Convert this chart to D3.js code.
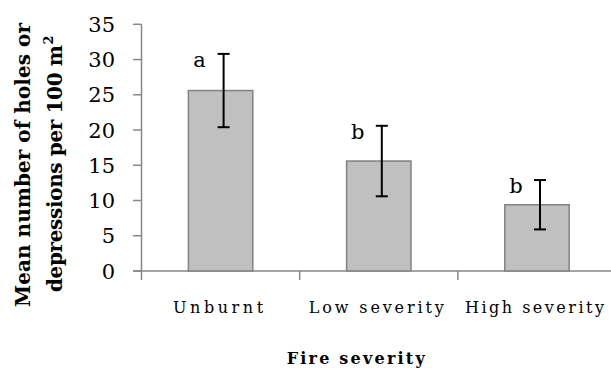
<!DOCTYPE html>
<html><head><meta charset="utf-8">
<script src="https://cdn.jsdelivr.net/npm/d3@7"></script>
<style>
html,body{margin:0;padding:0;background:#fff;}
svg{display:block;}
text{font-family:"DejaVu Serif","Liberation Serif",serif;fill:#000;}
</style></head>
<body>
<svg id="chart" width="611" height="374"></svg>
<script>
const categories = ["Unburnt", "Low severity", "High severity"];
const means = [25.6, 15.6, 9.4];
const stdErrors = [5.2, 5.0, 3.5];
const groupLetters = ["a", "b", "b"];
const yTicks = [0, 5, 10, 15, 20, 25, 30, 35];
const xTitle = "Fire severity";
const yTitle1 = "Mean number of holes or";
const yTitle2 = "depressions per 100 m";

const svg = d3.select("#chart");
const x0 = 141.5, x1 = 616.1;
const x = d3.scaleBand().domain(categories).range([x0, x1]).paddingInner(0.593).paddingOuter(0.2965);
const y = d3.scaleLinear().domain([0, 35]).range([271, 24.3]);
const axisColor = "#878787";

// y axis
svg.append("line").attr("x1", x0).attr("x2", x0).attr("y1", y(35)).attr("y2", y(0) + 9)
  .attr("stroke", axisColor).attr("stroke-width", 1.5);
svg.selectAll(".ytick").data(yTicks).enter().append("line")
  .attr("x1", x0 - 8.5).attr("x2", x0).attr("y1", d => y(d)).attr("y2", d => y(d))
  .attr("stroke", axisColor).attr("stroke-width", 1.5);
svg.selectAll(".ylab").data(yTicks).enter().append("text")
  .attr("x", 115).attr("y", d => y(d) + 7.5).attr("text-anchor", "end")
  .style("font-size", "21px").text(d => d);

// x axis
svg.append("line").attr("x1", x0 - 8.5).attr("x2", x1).attr("y1", y(0)).attr("y2", y(0))
  .attr("stroke", axisColor).attr("stroke-width", 1.5);
const step = x.step();
svg.selectAll(".xtick").data(categories).enter().append("line")
  .attr("x1", (d, i) => x0 + step * (i + 1)).attr("x2", (d, i) => x0 + step * (i + 1))
  .attr("y1", y(0)).attr("y2", y(0) + 9)
  .attr("stroke", axisColor).attr("stroke-width", 1.5);

// bars
svg.selectAll(".bar").data(categories).enter().append("rect")
  .attr("x", d => x(d)).attr("width", x.bandwidth())
  .attr("y", (d, i) => y(means[i])).attr("height", (d, i) => y(0) - y(means[i]))
  .attr("fill", "#c0c0c0").attr("stroke", "#828282").attr("stroke-width", 1.5);

// error bars
const ex = d => x(d) + x.bandwidth() / 2 + 3;
const eg = svg.selectAll(".err").data(categories).enter().append("g");
eg.append("line").attr("x1", ex).attr("x2", ex)
  .attr("y1", (d, i) => y(means[i] + stdErrors[i])).attr("y2", (d, i) => y(means[i] - stdErrors[i]))
  .attr("stroke", "#000").attr("stroke-width", 2);
[1, -1].forEach(s => {
  eg.append("line").attr("x1", d => ex(d) - 6).attr("x2", d => ex(d) + 6)
    .attr("y1", (d, i) => y(means[i] + s * stdErrors[i])).attr("y2", (d, i) => y(means[i] + s * stdErrors[i]))
    .attr("stroke", "#000").attr("stroke-width", 2);
});
// letters
eg.append("text").attr("x", d => ex(d) - 24).attr("y", (d, i) => y(means[i] + stdErrors[i]) + 13)
  .attr("text-anchor", "middle").style("font-size", "21px").text((d, i) => groupLetters[i]);

// category labels
const labW = [90, 135, 139];
svg.selectAll(".xlab").data(categories).enter().append("text")
  .attr("x", d => x(d) + x.bandwidth() / 2 - 2.5).attr("y", 313)
  .attr("text-anchor", "middle").style("font-size", "16px")
  .attr("textLength", (d, i) => labW[i]).attr("lengthAdjust", "spacing")
  .text(d => d);

// x title
svg.append("text").attr("x", 355.7).attr("y", 364).attr("text-anchor", "middle")
  .style("font-size", "16px").style("font-weight", "bold")
  .attr("textLength", 138).attr("lengthAdjust", "spacing")
  .text(xTitle);

// y title
svg.append("text").attr("transform", "translate(29.5,307) rotate(-90)").attr("text-anchor", "start")
  .style("font-size", "20px").style("font-weight", "bold")
  .attr("textLength", 284).attr("lengthAdjust", "spacing")
  .text(yTitle1);
const t2 = svg.append("text").attr("transform", "translate(62,292) rotate(-90)").attr("text-anchor", "start")
  .style("font-size", "20px").style("font-weight", "bold");
t2.append("tspan").attr("textLength", 247).attr("lengthAdjust", "spacing").text(yTitle2);
t2.append("tspan").attr("dy", -9).attr("dx", 1).style("font-size", "13px").text("2");
</script>
</body></html>
